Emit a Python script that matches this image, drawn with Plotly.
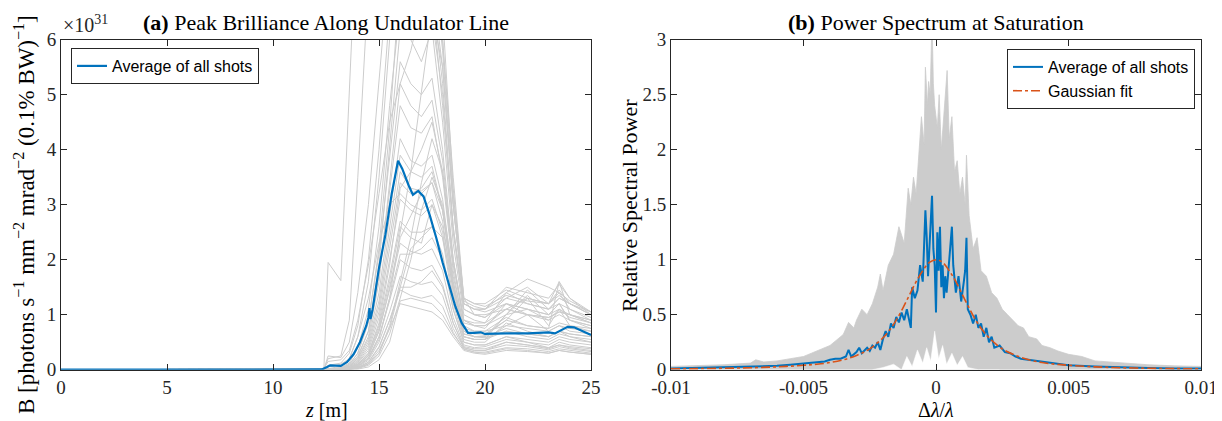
import plotly.graph_objects as go
from plotly.subplots import make_subplots

# ---- panel (a): peak brilliance along undulator, units of 1e31 ----
Z_GRID = [0, 11, 12.4, 12.6, 13.2, 13.6, 14, 14.5, 15, 15.5, 16, 16.5, 17,
          17.5, 18, 18.5, 19, 19.5, 20, 21, 22, 23, 23.5, 24, 25]

SHOTS_A = [
    [0, 0, 0.02, 1.95, 1.62, 5.0, 8.5, 10, 10, 9.5, 9, 8.5, 8, 7.5, 6, 3.5, 1.3, 1.0, 1.0, 1.1, 1.0, 0.95, 1.05, 1.0, 0.85],
    [0, 0, 0.01, 0.2, 0.25, 0.9, 3.5, 7, 9, 9, 8.5, 8, 7.5, 7, 5.5, 3, 1.2, 1.1, 1.05, 1.2, 1.1, 1.0, 1.1, 1.0, 0.9],
    [0, 0, 0.01, 0.02, 0.06, 0.2, 0.6, 1.6, 3.5, 6.0, 8.0, 7.5, 7.2, 6.8, 4.8, 2.5, 1.1, 1.0, 0.95, 1.3, 1.5, 1.2, 1.6, 1.3, 1.0],
    [0, 0, 0, 0.01, 0.04, 0.12, 0.4, 1.1, 2.6, 4.8, 6.6, 6.0, 5.6, 6.2, 4.5, 2.3, 1.0, 0.9, 0.85, 1.4, 1.65, 1.5, 1.4, 1.1, 0.95],
    [0, 0, 0, 0.01, 0.03, 0.1, 0.3, 0.9, 2.1, 3.9, 5.6, 5.2, 5.0, 5.3, 4.0, 2.0, 0.85, 0.8, 0.75, 1.2, 1.0, 0.9, 1.1, 0.95, 0.85],
    [0, 0, 0, 0.01, 0.03, 0.08, 0.25, 0.7, 1.7, 3.3, 4.8, 4.4, 4.3, 4.6, 3.5, 1.8, 0.75, 0.7, 0.7, 0.8, 0.75, 0.7, 0.8, 0.75, 0.7],
    [0, 0, 0, 0, 0.02, 0.06, 0.2, 0.55, 1.4, 2.8, 4.2, 3.8, 3.7, 3.9, 3.1, 1.6, 0.7, 0.6, 0.62, 0.9, 1.3, 0.8, 1.1, 0.8, 0.75],
    [0, 0, 0, 0, 0.02, 0.05, 0.15, 0.45, 1.15, 2.4, 3.6, 3.3, 3.25, 3.4, 2.7, 1.4, 0.6, 0.55, 0.55, 0.7, 0.6, 0.55, 0.65, 0.6, 0.55],
    [0, 0, 0, 0, 0.01, 0.04, 0.12, 0.35, 0.95, 2.0, 3.1, 2.9, 2.8, 3.0, 2.4, 1.2, 0.55, 0.5, 0.5, 0.85, 0.7, 0.6, 0.7, 0.6, 0.5],
    [0, 0, 0, 0, 0.01, 0.03, 0.1, 0.3, 0.8, 1.7, 2.7, 2.5, 2.5, 2.6, 2.1, 1.1, 0.5, 0.45, 0.45, 0.6, 0.5, 0.45, 0.55, 0.5, 0.45],
    [0, 0, 0, 0, 0.01, 0.03, 0.08, 0.25, 0.7, 1.45, 2.3, 2.15, 2.1, 2.2, 1.8, 0.95, 0.45, 0.4, 0.42, 0.55, 0.5, 0.4, 0.5, 0.45, 0.4],
    [0, 0, 0, 0, 0.01, 0.02, 0.06, 0.2, 0.6, 1.25, 2.0, 1.85, 1.8, 1.9, 1.55, 0.85, 0.42, 0.38, 0.38, 0.5, 0.45, 0.38, 0.45, 0.4, 0.35],
    [0, 0, 0, 0, 0, 0.02, 0.05, 0.17, 0.5, 1.05, 1.7, 1.6, 1.55, 1.6, 1.35, 0.75, 0.4, 0.35, 0.35, 0.45, 0.42, 0.36, 0.42, 0.38, 0.33],
    [0, 0, 0, 0, 0, 0.01, 0.04, 0.14, 0.42, 0.9, 1.45, 1.35, 1.3, 1.35, 1.15, 0.68, 0.37, 0.32, 0.32, 0.4, 0.38, 0.33, 0.38, 0.35, 0.3],
    [0, 0, 0, 0, 0, 0.01, 0.03, 0.11, 0.35, 0.75, 1.2, 1.15, 1.1, 1.05, 0.9, 0.6, 0.35, 0.3, 0.28, 0.35, 0.33, 0.3, 0.35, 0.32, 0.28],
    [0, 0, 0, 0, 0, 0.01, 0.03, 0.1, 0.3, 0.8, 1.6, 2.4, 3.4, 4.2, 3.6, 2.0, 0.9, 0.8, 0.8, 1.0, 1.1, 0.9, 1.0, 0.9, 0.8],
    [0, 0, 0, 0, 0, 0.01, 0.02, 0.08, 0.25, 0.65, 1.3, 2.0, 2.9, 3.5, 3.0, 1.7, 0.8, 0.7, 0.7, 0.95, 0.8, 0.75, 0.85, 0.8, 0.7],
    [0, 0, 0, 0, 0.01, 0.02, 0.06, 0.2, 0.55, 1.3, 2.5, 3.6, 5.0, 6.5, 5.5, 3.0, 1.2, 1.1, 1.1, 1.4, 1.2, 1.1, 1.3, 1.2, 1.05],
    [0, 0, 0, 0, 0, 0.01, 0.03, 0.1, 0.3, 0.75, 1.5, 2.2, 2.4, 2.6, 2.4, 1.5, 0.7, 0.6, 0.6, 0.75, 0.65, 0.6, 0.7, 0.65, 0.6],
    [0, 0, 0, 0, 0.01, 0.03, 0.09, 0.28, 0.75, 1.6, 2.6, 2.4, 2.3, 3.0, 2.6, 1.5, 0.65, 0.6, 0.6, 1.0, 1.35, 1.0, 1.2, 0.9, 0.8],
    [0, 0, 0, 0, 0.01, 0.03, 0.1, 0.3, 0.85, 1.9, 3.3, 3.6, 4.0, 4.5, 3.6, 1.9, 0.9, 0.8, 0.8, 1.1, 1.3, 1.2, 1.45, 1.2, 1.0],
    [0, 0, 0, 0.01, 0.02, 0.07, 0.22, 0.7, 1.9, 4.0, 6.2, 6.6, 7.0, 6.9, 5.2, 2.6, 1.2, 1.1, 1.1, 1.5, 1.4, 1.3, 1.55, 1.3, 1.05],
    [0, 0, 0, 0, 0.01, 0.02, 0.07, 0.22, 0.6, 1.3, 2.1, 2.1, 2.2, 2.4, 2.0, 1.1, 0.5, 0.45, 0.45, 0.6, 0.55, 0.5, 0.6, 0.55, 0.5],
    [0, 0, 0, 0, 0, 0.01, 0.04, 0.13, 0.4, 0.9, 1.5, 1.5, 1.6, 1.8, 1.5, 0.85, 0.4, 0.35, 0.35, 0.5, 0.45, 0.4, 0.45, 0.42, 0.38],
    [0, 0, 0.01, 0.25, 0.22, 0.5, 1.4, 3.0, 5.2, 7.5, 8.5, 7.8, 7.4, 7.6, 5.8, 3.0, 1.25, 1.15, 1.1, 1.3, 1.2, 1.1, 1.3, 1.2, 1.0],
    [0, 0, 0, 0.01, 0.03, 0.09, 0.3, 0.85, 2.2, 4.4, 7.2, 6.5, 6.0, 6.4, 5.0, 2.6, 1.1, 1.0, 0.95, 1.2, 1.1, 1.0, 1.2, 1.1, 0.9],
    [0, 0, 0, 0, 0.02, 0.05, 0.17, 0.5, 1.25, 2.6, 3.9, 3.6, 3.5, 3.7, 2.9, 1.5, 0.65, 0.6, 0.58, 0.7, 0.65, 0.6, 0.7, 0.65, 0.6],
    [0, 0, 0, 0, 0.01, 0.04, 0.13, 0.4, 1.05, 2.2, 3.4, 3.2, 3.3, 3.6, 2.9, 1.5, 0.6, 0.55, 0.55, 0.8, 1.0, 0.7, 0.8, 0.7, 0.65],
    [0, 0, 0, 0, 0, 0, 0.01, 0.05, 0.18, 0.5, 1.25, 1.3, 1.25, 1.2, 1.0, 0.65, 0.38, 0.32, 0.3, 0.38, 0.35, 0.3, 0.35, 0.32, 0.28],
    [0, 0, 0.02, 0.15, 0.18, 0.35, 0.9, 1.9, 3.2, 4.5, 5.2, 4.8, 4.6, 4.9, 3.8, 2.0, 0.9, 0.85, 0.85, 1.1, 1.0, 0.95, 1.05, 1.0, 0.9],
    [0, 0, 0, 0.05, 0.1, 0.2, 0.6, 1.3, 2.3, 3.0, 3.2, 3.0, 2.9, 3.1, 2.5, 1.3, 0.6, 0.55, 0.55, 1.0, 1.45, 1.1, 1.2, 0.9, 0.75],
    [0, 0, 0, 0, 0.01, 0.03, 0.09, 0.25, 0.7, 1.5, 2.4, 2.8, 3.2, 3.4, 2.9, 1.6, 0.7, 0.65, 0.65, 0.9, 0.8, 0.75, 1.6, 1.0, 0.85],
    [0, 0, 0.01, 0.08, 0.12, 0.3, 0.8, 2.0, 4.0, 6.5, 9.0, 8.8, 8.5, 8.6, 6.5, 3.3, 1.3, 1.2, 1.15, 1.35, 1.25, 1.2, 1.4, 1.25, 1.05],
    [0, 0, 0, 0, 0.02, 0.06, 0.2, 0.6, 1.6, 3.4, 5.2, 5.8, 6.6, 7.5, 6.0, 3.2, 1.3, 1.2, 1.2, 1.45, 1.3, 1.2, 1.35, 1.2, 1.0],
]

Z_AVG = [0, 11.5, 12.3, 12.55, 12.7, 13.2, 13.5, 13.8, 14.1, 14.4, 14.5, 14.55, 14.6, 14.7,
         15.0, 15.3, 15.6, 15.9, 16.1, 16.4, 16.6, 16.85, 17.1, 17.4, 17.7, 18.0, 18.3,
         18.6, 18.9, 19.2, 19.5, 19.8, 20.0, 20.5, 21.0, 22.0, 22.5, 23.0, 23.3, 23.6,
         23.9, 24.2, 24.6, 25.0]
B_AVG = [0, 0, 0.005, 0.05, 0.08, 0.07, 0.14, 0.28, 0.5, 0.8, 0.95, 1.12, 0.92, 1.1,
         1.85, 2.45, 3.2, 3.8, 3.65, 3.35, 3.18, 3.25, 3.15, 2.8, 2.4, 1.95, 1.55,
         1.15, 0.85, 0.67, 0.67, 0.68, 0.65, 0.66, 0.66, 0.66, 0.67, 0.68, 0.66, 0.72,
         0.78, 0.77, 0.7, 0.63]

# ---- panel (b): spectrum at saturation, delta-lambda in units of 1e-3 ----
DL_UP = [-10, -9, -8, -7, -6.8, -6.5, -6, -5.5, -5, -4.7,
         -4.5, -4.2, -4, -3.7, -3.5, -3.3, -3.1, -3.0, -2.8, -2.6,
         -2.4, -2.2, -2.1, -2.0, -1.8, -1.6, -1.4, -1.2, -1.05, -0.95,
         -0.85, -0.75, -0.65, -0.55, -0.45, -0.4, -0.32, -0.28, -0.22, -0.15,
         -0.1, -0.05, 0.05, 0.12, 0.2, 0.3, 0.42, 0.5, 0.6, 0.7,
         0.8, 0.9, 1.0, 1.1, 1.15, 1.25, 1.4, 1.55, 1.7, 1.9,
         2.1, 2.3, 2.5, 2.7, 2.9, 3.1, 3.3, 3.5, 3.8, 4.0,
         4.3, 4.6, 5.0, 5.5, 6.0, 6.5, 7.0, 7.5, 8.0, 9.0, 10]
P_UP = [0.03, 0.035, 0.045, 0.06, 0.09, 0.07, 0.08, 0.1, 0.12, 0.15,
        0.17, 0.2, 0.22, 0.28, 0.32, 0.43, 0.38, 0.45, 0.55, 0.5,
        0.6, 0.75, 0.87, 0.72, 0.95, 1.05, 1.3, 1.15, 1.65, 1.5,
        1.75, 1.6, 1.95, 2.3, 2.05, 2.75, 2.4, 2.62, 2.5, 3.2,
        2.6, 2.4, 2.2, 2.5, 2.0, 2.3, 2.72, 2.1, 2.3, 1.8,
        1.9, 1.6, 1.75, 1.5, 1.95, 1.4, 1.1, 1.2, 0.9, 0.85,
        0.7, 0.65, 0.55, 0.5, 0.45, 0.4, 0.38, 0.3, 0.28, 0.22,
        0.2, 0.17, 0.14, 0.12, 0.08, 0.07, 0.06, 0.05, 0.045, 0.035, 0.03]

DL_LOW = [-2.4, -2.0, -1.6, -1.3, -1.1, -0.9, -0.7, -0.5, -0.35, -0.2,
          -0.05, 0.1, 0.25, 0.4, 0.6, 0.8, 1.0, 1.2, 1.6, 2.4]
P_LOW = [0, 0.02, 0.05, 0.0, 0.12, 0.03, 0.18, 0.06, 0.2, 0.08,
         0.35, 0.1, 0.22, 0.05, 0.15, 0.04, 0.12, 0.02, 0.0, 0]

DL_AVG = [-10, -9, -8, -7, -6, -5.5, -5, -4.5, -4.2, -4,
          -3.8, -3.6, -3.4, -3.3, -3.2, -3.0, -2.9, -2.8, -2.6, -2.5,
          -2.4, -2.3, -2.2, -2.1, -2.0, -1.9, -1.8, -1.7, -1.6, -1.5,
          -1.4, -1.3, -1.2, -1.1, -1.0, -0.95, -0.9, -0.8, -0.7, -0.6,
          -0.5, -0.45, -0.4, -0.35, -0.3, -0.25, -0.2, -0.15, -0.1, -0.05,
          0, 0.05, 0.1, 0.15, 0.2, 0.25, 0.3, 0.35, 0.4, 0.5,
          0.6, 0.65, 0.75, 0.85, 0.95, 1.05, 1.1, 1.15, 1.2, 1.3,
          1.4, 1.5, 1.6, 1.7, 1.8, 1.9, 2.0, 2.1, 2.2, 2.4,
          2.6, 2.8, 3.0, 3.2, 3.5, 4, 4.5, 5, 6, 7,
          8, 9, 10]
P_AVG = [0.01, 0.015, 0.02, 0.025, 0.035, 0.045, 0.055, 0.07, 0.075, 0.09,
         0.1, 0.1, 0.12, 0.18, 0.12, 0.16, 0.2, 0.15, 0.2, 0.17,
         0.22, 0.2, 0.25, 0.18, 0.28, 0.35, 0.3, 0.42, 0.38, 0.48,
         0.43, 0.52, 0.45, 0.55, 0.45, 0.38, 0.75, 0.65, 0.72, 0.95,
         0.8, 1.1, 1.45, 1.2, 0.85, 1.1, 1.3, 1.58, 1.1, 0.95,
         0.52, 1.25, 0.9, 1.3, 0.75, 0.95, 0.65, 0.85, 0.7, 1.0,
         1.3, 0.95, 0.7, 0.85, 0.62, 0.8, 0.9, 1.2, 0.55, 0.5,
         0.42, 0.5, 0.38, 0.42, 0.3, 0.38, 0.25, 0.3, 0.2, 0.22,
         0.16, 0.15, 0.12, 0.1, 0.09, 0.07, 0.05, 0.04, 0.03, 0.02,
         0.015, 0.01, 0.01]

DL_FIT = [-10, -9, -8, -7, -6, -5, -4.5, -4, -3.5, -3, -2.5, -2, -1.75, -1.5,
          -1.25, -1, -0.75, -0.5, -0.25, 0, 0.25, 0.5, 0.75, 1, 1.25, 1.5, 1.75,
          2, 2.5, 3, 3.5, 4, 4.5, 5, 6, 7, 8, 9, 10]
P_FIT = [0.008, 0.01, 0.013, 0.018, 0.026, 0.04, 0.05, 0.065, 0.09, 0.13, 0.19,
         0.29, 0.36, 0.45, 0.56, 0.68, 0.8, 0.9, 0.975, 1.0, 0.975, 0.9, 0.8,
         0.68, 0.56, 0.45, 0.36, 0.29, 0.19, 0.13, 0.09, 0.065, 0.05, 0.04,
         0.026, 0.018, 0.013, 0.01, 0.008]

XTICKS_B = [-10, -5, 0, 5, 10]
XTICKTEXT_B = ['-0.01', '-0.005', '0', '0.005', '0.01']

BLUE = '#0072BD'
ORANGE = '#D95319'
GRAY = '#CCCCCC'
AXC = '#262626'
SERIF = 'Liberation Serif'
SANS = 'Liberation Sans'

W, H = 1222, 421

fig = make_subplots(rows=1, cols=2)

for shot in SHOTS_A:
    fig.add_trace(go.Scatter(x=Z_GRID, y=shot, mode='lines',
                             line=dict(color=GRAY, width=1),
                             showlegend=False, hoverinfo='skip'), row=1, col=1)

fig.add_trace(go.Scatter(x=Z_AVG, y=B_AVG, mode='lines', name='Average of all shots',
                         line=dict(color=BLUE, width=2.2), legend='legend'),
              row=1, col=1)

fig.add_trace(go.Scatter(x=DL_UP, y=P_UP, mode='lines', fill='tozeroy',
                         fillcolor=GRAY, line=dict(color=GRAY, width=0.8),
                         showlegend=False, hoverinfo='skip'), row=1, col=2)
fig.add_trace(go.Scatter(x=DL_LOW, y=P_LOW, mode='lines', fill='tozeroy',
                         fillcolor='white', line=dict(color='white', width=0.5),
                         showlegend=False, hoverinfo='skip'), row=1, col=2)
fig.add_trace(go.Scatter(x=DL_AVG, y=P_AVG, mode='lines', name='Average of all shots',
                         line=dict(color=BLUE, width=2), legend='legend2'),
              row=1, col=2)
fig.add_trace(go.Scatter(x=DL_FIT, y=P_FIT, mode='lines', name='Gaussian fit',
                         line=dict(color=ORANGE, width=1.6, dash='dashdot'),
                         line_shape='spline', legend='legend2'),
              row=1, col=2)

axis_common = dict(showline=True, linecolor=AXC, linewidth=1, mirror='ticks',
                   ticks='inside', ticklen=6, tickcolor=AXC, showgrid=False,
                   zeroline=False, automargin=False,
                   tickfont=dict(family=SERIF, size=19, color=AXC))

fig.update_xaxes(axis_common)
fig.update_yaxes(axis_common)

fig.update_xaxes(domain=[53 / W, 583 / W], range=[0, 25], tickvals=[0, 5, 10, 15, 20, 25],
                 row=1, col=1)
fig.update_yaxes(domain=[(H - 361.7) / H, (H - 31.7) / H], range=[0, 6],
                 tickvals=[0, 1, 2, 3, 4, 5, 6], row=1, col=1)
fig.update_xaxes(domain=[663 / W, 1193 / W], range=[-10, 10], tickvals=XTICKS_B,
                 ticktext=XTICKTEXT_B, row=1, col=2)
fig.update_yaxes(domain=[(H - 361.7) / H, (H - 31.7) / H], range=[0, 3],
                 tickvals=[0, 0.5, 1, 1.5, 2, 2.5, 3], ticktext=['0', '0.5', '1', '1.5', '2', '2.5', '3'],
                 row=1, col=2)

legend_common = dict(bgcolor='white', bordercolor=AXC, borderwidth=1,
                     font=dict(family=SANS, size=16, color='black'),
                     xanchor='left', yanchor='top', tracegroupgap=0)

fig.update_layout(
    width=W, height=H,
    margin=dict(l=0, r=0, t=0, b=0),
    paper_bgcolor='white', plot_bgcolor='white',
    legend=dict(legend_common, x=63 / W, y=(H - 40) / H),
    legend2=dict(legend_common, x=999 / W, y=(H - 41) / H),
)

tfont = dict(family=SERIF, size=22, color='black')
xtfont = dict(family=SERIF, size=20, color='black')
ann = [
    dict(text='<b>(a)</b> Peak Brilliance Along Undulator Line', x=318 / W, y=(H - 14) / H),
    dict(text='<b>(b)</b> Power Spectrum at Saturation', x=928 / W, y=(H - 14) / H),
    dict(text='<i>z</i> [m]', x=318 / W, y=(H - 402) / H, font=xtfont),
    dict(text='Δ<i>λ</i>/<i>λ</i>', x=928 / W, y=(H - 402) / H, font=xtfont),
    dict(text='B [photons s<sup>−1</sup> mm<sup>−2</sup> mrad<sup>−2</sup> (0.1% BW)<sup>−1</sup>]',
         x=16 / W, y=(H - 207) / H, textangle=-90, font=dict(family=SERIF, size=23, color='black')),
    dict(text='Relative Spectral Power', x=621 / W, y=(H - 197) / H, textangle=-90),
]
for a in ann:
    a.setdefault('font', tfont)
    fig.add_annotation(xref='paper', yref='paper', showarrow=False,
                       xanchor='center', yanchor='middle', **a)
fig.add_annotation(xref='paper', yref='paper', showarrow=False, x=53 / W, y=(H - 16) / H,
                   xanchor='left', yanchor='middle', text='×10<sup>31</sup>',
                   font=dict(family=SERIF, size=20, color=AXC))

fig.write_html('out.html')
